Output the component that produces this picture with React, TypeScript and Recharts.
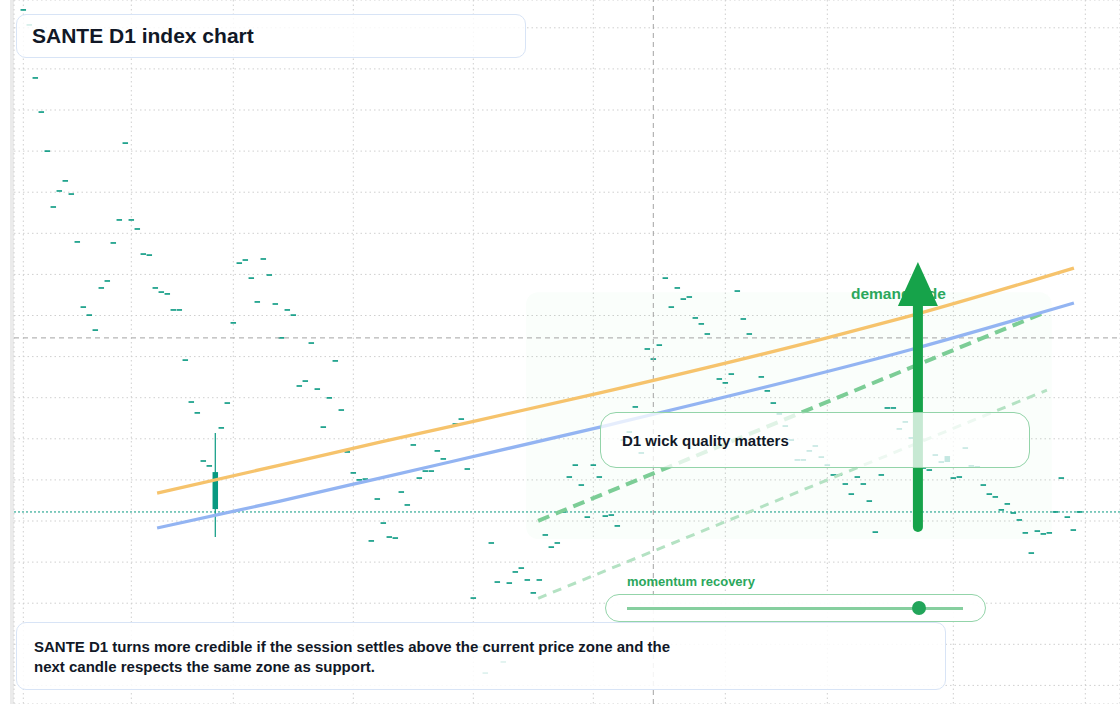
import {
  ComposedChart,
  CartesianGrid,
  XAxis,
  YAxis,
  Bar,
  Line,
  ReferenceLine,
  ReferenceArea,
  ReferenceDot,
} from "recharts";

// daily closes, one per trading session (index = session number)
const closes = [
  60.87, 60.14, 57.56, 55.9, 54.0, 51.28, 52.06, 52.55, 51.91, 49.58,
  46.41, 46.02, 45.29, 47.34, 47.68, 49.53, 50.65, 54.39, 50.65, 50.21,
  48.99, 48.94, 47.34, 47.14, 47.05, 46.27, 46.27, 43.83, 41.79, 41.26,
  38.92, 38.68, 38.38, 40.53, 41.74, 45.64, 48.55, 48.7, 47.82, 46.66,
  48.75, 47.97, 46.56, 44.91, 46.27, 46.02, 42.57, 42.81, 44.66, 42.42,
  40.57, 41.99, 43.79, 41.4, 39.36, 38.34, 38.0, 38.04, 35.03, 37.07,
  35.9, 35.22, 35.17, 37.41, 36.78, 39.7, 38.09, 38.43, 38.43, 39.41,
  39.02, 40.57, 40.72, 40.96, 38.53, 32.25, 29.87, 28.6, 34.93, 33.03,
  29.14, 32.98, 33.52, 33.71, 33.13, 32.5, 33.13, 35.32, 34.73, 34.93,
  36.44, 38.14, 38.72, 37.75, 36.19, 38.72, 38.14, 36.24, 36.29, 35.76,
  39.94, 40.33, 41.55, 39.31, 44.37, 43.88, 44.56, 47.82, 46.41, 47.34,
  46.8, 46.9, 45.88, 45.59, 45.1, 43.54, 42.91, 42.72, 43.15, 47.19,
  45.83, 45.1, 44.03, 43.01, 42.33, 41.74, 41.21, 40.62, 39.94, 38.97,
  38.97, 39.41, 39.65, 39.11, 38.72, 38.24, 38.24, 37.8, 37.31, 38.14,
  37.8, 36.97, 35.46, 38.24, 41.5, 41.5, 40.48, 40.82, 40.04, 39.45,
  38.58, 38.48, 39.21, 38.87, 39.16, 38.09, 38.14, 39.55, 38.68, 38.63,
  37.75, 37.31, 37.17, 36.54, 36.83, 36.39, 36.05, 35.42, 34.44, 35.51,
  35.37, 35.42, 36.44, 38.09, 36.19, 35.56, 36.44,
];

// sessions that actually had a range (the rest opened and closed flat)
const rangedSessions = [
  { i: 32, open: 36.58, high: 40.28, low: 35.22 },
  { i: 154, open: 38.87, high: 39.16, low: 38.87 },
];

const monthTicks = [0, 18, 35, 55, 75, 95, 117, 134, 155, 177];
const priceTicks = [28, 30, 32, 34, 36, 38, 40, 42, 44, 46, 48, 50, 52, 54, 56, 58, 60];

const upperChannel = [
  { i: 22.3, v: 37.36 },
  { i: 42.8, v: 38.72 },
  { i: 59.45, v: 39.84 },
  { i: 96.1, v: 42.23 },
  { i: 133.95, v: 44.91 },
  { i: 148.3, v: 46.02 },
  { i: 175.1, v: 48.31 },
];
const lowerChannel = [
  { i: 22.3, v: 35.66 },
  { i: 42.8, v: 36.97 },
  { i: 59.45, v: 38.09 },
  { i: 96.1, v: 40.57 },
  { i: 148.3, v: 44.37 },
  { i: 175.1, v: 46.61 },
];
const breakoutPath = [
  { i: 85.8, v: 36.01 },
  { i: 170.6, v: 46.19 },
];
const supportPath = [
  { i: 85.8, v: 32.24 },
  { i: 170.6, v: 42.37 },
];

const zoneSessions = [83.8, 171.4];
const zonePrices = [35.12, 47.13];
const crossSession = 105;
const crossPrice = 44.91;
const lastPrice = closes[closes.length - 1];
const arrowSession = 149.1;
const arrowPrices = [35.71, 46.46, 48.6]; // tail, head base, tip
const demandLabel = { i: 137.95, v: 47.09 };

const UP = "#089981";
const BODY_W = 5.5;

const candles = closes.map((close, i) => {
  const r = rangedSessions.find((s) => s.i === i);
  return {
    i,
    open: r ? r.open : close,
    close,
    high: r ? r.high : close,
    low: r ? r.low : close,
  };
});

function CandleShape(props: any) {
  const { x, y, width, height, payload } = props;
  if (x == null || y == null || Number.isNaN(x) || Number.isNaN(y)) return null;
  const { open, close, high, low } = payload;
  const cx = x + (width || 0) / 2;
  const bx = cx - BODY_W / 2;
  const span = high - low;
  if (!span || !height || height < 0.5) {
    return <rect x={bx} y={y - 0.8} width={BODY_W} height={1.6} fill={UP} />;
  }
  const py = (v: number) => y + ((high - v) / span) * height;
  const top = py(Math.max(open, close));
  const bottom = py(Math.min(open, close));
  return (
    <g>
      <line x1={cx} x2={cx} y1={y} y2={y + height} stroke={UP} strokeWidth={1.2} />
      <rect x={bx} y={top} width={BODY_W} height={Math.max(bottom - top, 1.6)} fill={UP} />
    </g>
  );
}

function DemandText(props: any) {
  const { cx, cy } = props;
  return (
    <text x={cx} y={cy} dominantBaseline="central" fill="#2ba75c" fontSize={15.5} fontWeight={700}
          fontFamily="'Liberation Sans', Arial, sans-serif">
      demand side
    </text>
  );
}

function ArrowHead(props: any) {
  const { cx, cy } = props;
  return <polygon points={`${cx},${cy} ${cx - 20},${cy + 44} ${cx + 20},${cy + 44}`} fill="#16a34a" />;
}

const box: React.CSSProperties = {
  position: "absolute",
  boxSizing: "border-box",
};

export default function App() {
  return (
    <div
      style={{
        position: "absolute",
        left: 0,
        top: 0,
        width: 1120,
        height: 704,
        background: "#fff",
        overflow: "hidden",
        fontFamily: "'Liberation Sans', Arial, sans-serif",
      }}
    >
      <div style={{ ...box, left: 10, top: 0, width: 4, height: 704, background: "#ebebeb" }} />
      <ComposedChart width={1120} height={704} data={candles} margin={{ top: 0, right: 0, bottom: 0, left: 14 }}>
        <CartesianGrid stroke="#cfcfcf" strokeDasharray="1.5 3" />
        <XAxis dataKey="i" type="number" domain={[-1.55, 182.78]} ticks={monthTicks} allowDataOverflow hide />
        <YAxis type="number" domain={[27.095, 61.353]} ticks={priceTicks} allowDataOverflow hide />
        <ReferenceArea
          x1={zoneSessions[0]}
          x2={zoneSessions[1]}
          y1={zonePrices[0]}
          y2={zonePrices[1]}
          fill="#22c55e"
          fillOpacity={0.024}
          stroke="none"
          radius={12}
        />
        <ReferenceLine y={crossPrice} stroke="#a3a3a3" strokeDasharray="5 4" />
        <ReferenceLine x={crossSession} stroke="#a3a3a3" strokeDasharray="5 4" />
        <ReferenceLine y={lastPrice} stroke={UP} strokeDasharray="2 2" />
        <Line data={supportPath} dataKey="v" stroke="#b4e2c3" strokeWidth={3} strokeDasharray="9 7" dot={false}
              isAnimationActive={false} />
        <Line data={breakoutPath} dataKey="v" stroke="#7ccd96" strokeWidth={4} strokeDasharray="12 7" dot={false}
              isAnimationActive={false} />
        <Line data={upperChannel} dataKey="v" type="monotone" stroke="#f6c36c" strokeWidth={3.3} dot={false}
              isAnimationActive={false} />
        <Line data={lowerChannel} dataKey="v" type="monotone" stroke="#93b4f2" strokeWidth={3.3} dot={false}
              isAnimationActive={false} />
        <Bar dataKey={(d: any) => [d.low, d.high]} barSize={5} shape={<CandleShape />} isAnimationActive={false} />
        <ReferenceDot x={demandLabel.i} y={demandLabel.v} r={0} shape={<DemandText />} />
        <ReferenceLine
          segment={[
            { x: arrowSession, y: arrowPrices[0] },
            { x: arrowSession, y: arrowPrices[1] },
          ]}
          stroke="#16a34a"
          strokeWidth={10}
          strokeLinecap="round"
        />
        <ReferenceDot x={arrowSession} y={arrowPrices[2]} r={0} shape={<ArrowHead />} />
      </ComposedChart>

      <div
        style={{
          ...box,
          left: 16,
          top: 14,
          width: 510,
          height: 44,
          border: "1px solid #d8e4f6",
          borderRadius: 10,
          background: "rgba(255,255,255,0.82)",
          paddingLeft: 15,
          display: "flex",
          alignItems: "center",
          fontSize: 21,
          fontWeight: 700,
          color: "#111827",
        }}
      >
        SANTE D1 index chart
      </div>

      <div
        style={{
          ...box,
          left: 600,
          top: 412,
          width: 430,
          height: 56,
          border: "1.5px solid #93d4a9",
          borderRadius: 16,
          background: "rgba(255,255,255,0.76)",
          paddingLeft: 21,
          display: "flex",
          alignItems: "center",
          fontSize: 15,
          fontWeight: 700,
          color: "#111827",
        }}
      >
        D1 wick quality matters
      </div>

      <div
        style={{
          ...box,
          left: 627,
          top: 573,
          fontSize: 13,
          fontWeight: 700,
          color: "#2ba75c",
          lineHeight: "18px",
        }}
      >
        momentum recovery
      </div>
      <div
        style={{
          ...box,
          left: 605,
          top: 594,
          width: 381,
          height: 28,
          border: "1.5px solid #93d4a9",
          borderRadius: 14,
          background: "rgba(255,255,255,0.92)",
        }}
      >
        <div style={{ position: "absolute", left: 20.5, top: 11.5, width: 336, height: 3, background: "#86cf9f" }} />
        <div
          style={{
            position: "absolute",
            left: 306,
            top: 6,
            width: 14,
            height: 14,
            borderRadius: 7,
            background: "#22a55a",
          }}
        />
      </div>

      <div
        style={{
          ...box,
          left: 16,
          top: 622,
          width: 930,
          height: 68,
          border: "1px solid #d8e4f6",
          borderRadius: 10,
          background: "rgba(255,255,255,0.86)",
          padding: "14px 0 0 17px",
          fontSize: 15,
          fontWeight: 700,
          lineHeight: "20px",
          color: "#111827",
        }}
      >
        <div style={{ width: 650 }}>
          SANTE D1 turns more credible if the session settles above the current price zone and the next candle
          respects the same zone as support.
        </div>
      </div>
    </div>
  );
}
